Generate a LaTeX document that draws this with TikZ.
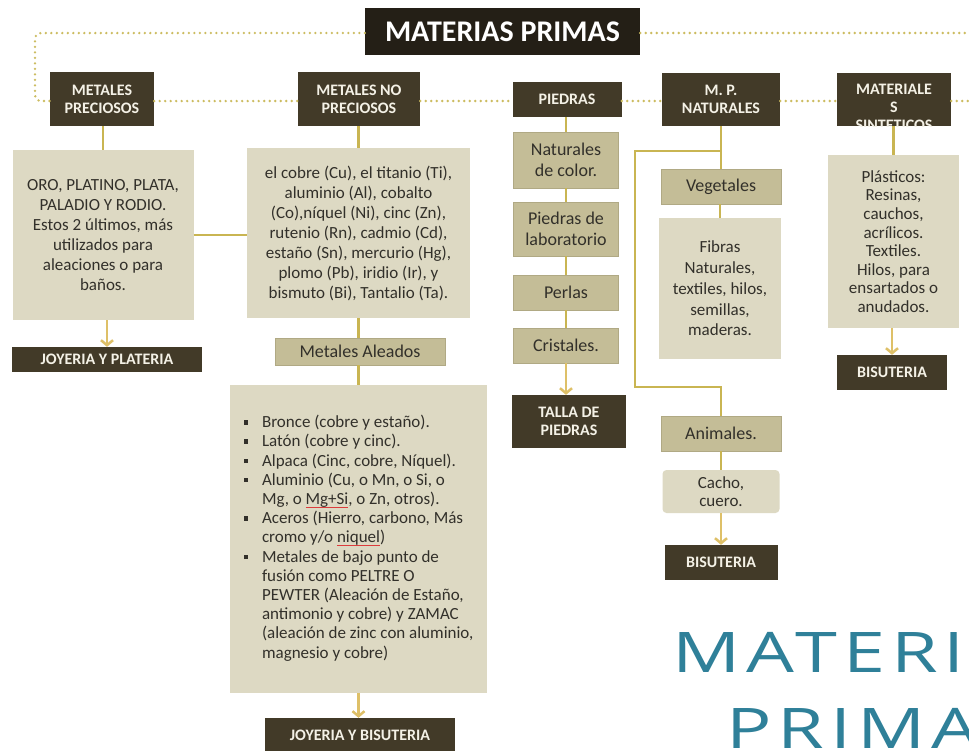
\documentclass[tikz,border=0pt]{standalone}
\usepackage{fontspec}
\setmainfont{Carlito}
\newfontfamily\bigfont{Open Sans}[LetterSpace=8]
\usetikzlibrary{arrows.meta}
\definecolor{darkc}{RGB}{66,58,40}
\definecolor{titlec}{RGB}{36,31,22}
\definecolor{lighttxt}{RGB}{244,241,230}
\definecolor{midc}{RGB}{196,189,151}
\definecolor{midline}{RGB}{176,169,132}
\definecolor{boxc}{RGB}{221,217,195}
\definecolor{txt}{RGB}{50,48,42}
\definecolor{linec}{RGB}{201,181,82}
\definecolor{arrc}{RGB}{222,192,104}
\definecolor{dotc}{RGB}{204,188,96}
\definecolor{tealc}{RGB}{47,128,153}
\definecolor{spellc}{RGB}{220,60,60}
\newcommand\bul{\rule[3pt]{4.5pt}{4.5pt}}
\newsavebox\spellbox
\newcommand\spellerr[1]{\sbox\spellbox{#1}\rlap{\textcolor{spellc}{\rule[-3pt]{\wd\spellbox}{0.9pt}}}\usebox\spellbox}
\tikzset{
  darkbox/.style={fill=darkc, text=lighttxt, font=\bfseries\fontsize{16}{18}\selectfont, align=center, inner sep=0pt},
  titlebox/.style={fill=titlec, text=white, font=\bfseries\fontsize{30}{34}\selectfont, inner sep=0pt},
  midbox/.style={fill=midc, draw=midline, line width=0.6pt, text=txt, font=\fontsize{18}{21}\selectfont, align=center, inner sep=0pt},
  contentbox/.style={fill=boxc, text=txt, font=\fontsize{17}{20}\selectfont, align=center, inner sep=0pt},
  conn/.style={draw=linec, line width=2.5pt},
  arr/.style={draw=arrc, line width=2.5pt, -{Straight Barb[length=5pt,width=12pt]}},
  dots/.style={draw=dotc, line width=2.6pt, line cap=round, dash pattern=on 0pt off 5.5pt},
  bigtxt/.style={text=tealc, font=\bigfont\fontsize{56}{60}\selectfont, inner sep=0pt, anchor=base west, xscale=1.35, transform shape}
}
\begin{document}
\begin{tikzpicture}[x=1pt,y=-1pt]
\useasboundingbox (0,0) rectangle (969,750);
\clip (0,0) rectangle (969,750);
\fill[white] (0,0) rectangle (969,750);

% big background text
\node[bigtxt] (bigA) at (672,672) {MATERI};
\node[bigtxt] (bigB) at (726,748) {PRIMA};

% title and level-1 boxes
\node[titlebox, minimum width=275, minimum height=47] (title) at (502.5,31.5) {MATERIAS PRIMAS};
\node[darkbox, minimum width=104, minimum height=54] (mp) at (102,99) {METALES\\PRECIOSOS};
\node[darkbox, minimum width=122, minimum height=54] (mnp) at (359,99) {METALES NO\\PRECIOSOS};
\node[darkbox, minimum width=109, minimum height=35] (pie) at (567,99.5) {PIEDRAS};
\node[darkbox, minimum width=118, minimum height=53] (nat) at (721,99.5) {M. P.\\NATURALES};
\node[darkbox, minimum width=114, minimum height=53] (sin) at (894,99.5) {};
\begin{scope}
  \clip (sin.south west) rectangle (sin.north east);
  \node[darkbox, fill=none] (sintxt) at (894,107) {MATERIALE\\S\\SINTETICOS};
\end{scope}

% dotted frame
\coordinate (tl) at (35,33);
\coordinate (bl) at (35,101);
\coordinate (tr) at (969,33);
\coordinate (br) at (969,101);
\draw[dots, rounded corners=6pt] (title.west |- tl) -- (tl) -- (bl) -- (bl -| mp.west);
\draw[dots] (title.east |- tr) -- (tr);
\draw[dots] (mp.east |- bl) -- (bl -| mnp.west);
\draw[dots] (mnp.east |- bl) -- (bl -| pie.west);
\draw[dots] (pie.east |- bl) -- (bl -| nat.west);
\draw[dots] (nat.east |- bl) -- (bl -| sin.west);
\draw[dots] (sin.east |- br) -- (br);

% metales preciosos column
\node[contentbox, minimum width=181, minimum height=170] (mpc) at (103,235)
  {ORO, PLATINO, PLATA,\\PALADIO Y RODIO.\\Estos 2 últimos, más\\utilizados para\\aleaciones o para\\baños.};
\node[darkbox, minimum width=190, minimum height=25] (jp) at (107,359.5) {JOYERIA Y PLATERIA};

% metales no preciosos column
\node[contentbox, minimum width=223, minimum height=170] (mnpc) at (358.5,233)
  {el cobre (Cu), el titanio (Ti),\\aluminio (Al), cobalto\\(Co),níquel (Ni), cinc (Zn),\\rutenio (Rn), cadmio (Cd),\\estaño (Sn), mercurio (Hg),\\plomo (Pb), iridio (Ir), y\\bismuto (Bi), Tantalio (Ta).};
\node[midbox, minimum width=170, minimum height=27] (ale) at (360,351.5) {Metales Aleados};
\node[contentbox, minimum width=257, minimum height=308, font=\fontsize{17}{19.2}\selectfont] (alc) at (358.5,539)
  {\begin{tabular}{@{}l@{\hspace{14pt}}l@{}}
   \bul & Bronce (cobre y estaño).\\
   \bul & Latón (cobre y cinc).\\
   \bul & Alpaca (Cinc, cobre, Níquel).\\
   \bul & Aluminio (Cu, o Mn, o Si, o\\
        & Mg, o \spellerr{Mg+Si}, o Zn, otros).\\
   \bul & Aceros (Hierro, carbono, Más\\
        & cromo y/o \spellerr{niquel})\\
   \bul & Metales de bajo punto de\\
        & fusión como PELTRE O\\
        & PEWTER (Aleación de Estaño,\\
        & antimonio y cobre) y ZAMAC\\
        & (aleación de zinc con aluminio,\\
        & magnesio y cobre)
   \end{tabular}};
\node[darkbox, minimum width=190, minimum height=34] (jb) at (360,735) {JOYERIA Y BISUTERIA};

% piedras column
\node[midbox, minimum width=105, minimum height=56] (p1) at (566,160) {Naturales\\de color.};
\node[midbox, minimum width=105, minimum height=54] (p2) at (566,229) {Piedras de\\laboratorio};
\node[midbox, minimum width=105, minimum height=35] (p3) at (566,292.5) {Perlas};
\node[midbox, minimum width=105, minimum height=35] (p4) at (566,345.5) {Cristales.};
\node[darkbox, minimum width=114, minimum height=53] (tp) at (569,421.5) {TALLA DE\\PIEDRAS};

% naturales column
\node[midbox, minimum width=120, minimum height=35] (veg) at (721,186.5) {Vegetales};
\node[contentbox, minimum width=122, minimum height=141, font=\fontsize{17}{20.8}\selectfont] (fib) at (720,288.5)
  {Fibras\\Naturales,\\textiles, hilos,\\semillas,\\maderas.};
\node[midbox, minimum width=120, minimum height=35] (ani) at (721,433.5) {Animales.};
\node[contentbox, rounded corners=4pt, minimum width=117, minimum height=43, font=\fontsize{17}{18.5}\selectfont] (cac) at (721,491.5) {Cacho,\\cuero.};
\node[darkbox, minimum width=113, minimum height=35] (bis1) at (721,562.5) {BISUTERIA};

% sinteticos column
\node[contentbox, minimum width=131, minimum height=173, font=\fontsize{17}{18.6}\selectfont] (sinc) at (893.5,241.5)
  {Plásticos:\\Resinas,\\cauchos,\\acrílicos.\\Textiles.\\Hilos, para\\ensartados o\\anudados.};
\node[darkbox, minimum width=110, minimum height=35] (bis2) at (892,372.5) {BISUTERIA};

% connectors
\draw[conn] (mp.south -| mpc.north) -- (mpc.north);
\draw[conn] (mpc.east) -- (mpc.east -| mnpc.west);
\draw[arr] (mpc.south -| jp.north) -- (jp.north);
\draw[conn] (mnp.south -| mnpc.north) -- (mnpc.north);
\draw[conn] (mnpc.south) -- (mnpc.south |- ale.north);
\draw[conn] (ale.south -| alc.north) -- (alc.north);
\draw[arr] (alc.south) -- (alc.south |- jb.north);

\draw[conn] (pie.south -| p1.north) -- (p1.north);
\draw[conn] (p1.south) -- (p2.north);
\draw[conn] (p2.south) -- (p3.north);
\draw[conn] (p3.south) -- (p4.north);
\draw[arr] (p4.south) -- (p4.south |- tp.north);

\coordinate (nb1) at (635,151);
\coordinate (nb2) at (635,387);
\draw[conn] (nat.south) -- (veg.north);
\draw[conn] (veg.south -| fib.north) -- (fib.north);
\draw[conn, line join=miter] (nb1 -| nat.south) -- (nb1) -- (nb2) -- (nb2 -| ani.north) -- (ani.north);
\draw[conn] (ani.south) -- (cac.north);
\draw[arr] (cac.south) -- (bis1.north);

\draw[conn] (sin.south -| sinc.north) -- (sinc.north);
\draw[arr] (sinc.south -| bis2.north) -- (bis2.north);
\end{tikzpicture}
\end{document}
